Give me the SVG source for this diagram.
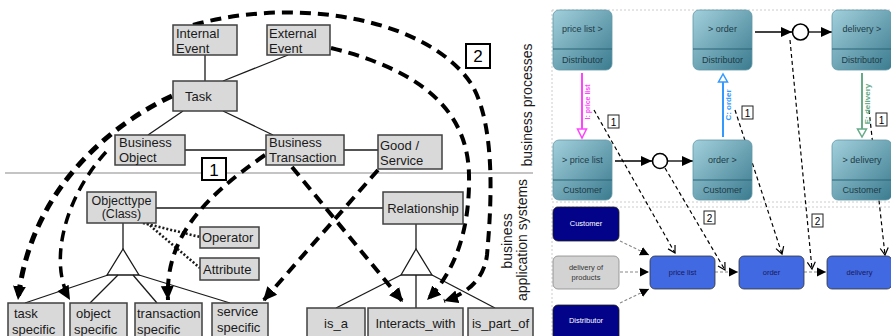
<svg xmlns="http://www.w3.org/2000/svg" width="891" height="336" viewBox="0 0 891 336">
<defs>
<style>
.bx{fill:#d9d9d9;stroke:#404040;stroke-width:1.5}
.t{font-family:"Liberation Sans",Arial,sans-serif;font-size:13px;fill:#1a1a1a}
.ln{stroke:#1a1a1a;stroke-width:1.3;fill:none}
.dot{stroke:#1a1a1a;stroke-width:2.6;stroke-dasharray:2 2;fill:none}
.thick{stroke:#000;stroke-width:4;stroke-dasharray:11 7;fill:none;marker-end:url(#big)}
.nb{fill:#fff;stroke:#000;stroke-width:2}
.nt{font-family:"Liberation Sans",Arial,sans-serif;font-size:17px;fill:#000;text-anchor:middle}
.vt{font-family:"Liberation Sans",Arial,sans-serif;font-size:14px;fill:#1a1a1a;text-anchor:middle}
.tb{fill:url(#teal);stroke:#5f98a8;stroke-width:0.8}
.tdiv{stroke:#2b6476;stroke-width:1.2}
.st{font-family:"Liberation Sans",Arial,sans-serif;font-size:9px;fill:#1c3b48;text-anchor:middle}
.lane{fill:none;stroke:#cccccc;stroke-width:1;stroke-dasharray:2 2}
.msg{stroke:#000;stroke-width:1.2;stroke-dasharray:4 3;fill:none;marker-end:url(#chev)}
.sb{fill:#fff;stroke:#222;stroke-width:1}
.sn{font-family:"Liberation Sans",Arial,sans-serif;font-size:10px;fill:#000;text-anchor:middle}
.navy{fill:#03038a;stroke:#222;stroke-width:0.8}
.rb{fill:#4169e1;stroke:#333;stroke-width:0.8}
.wt{font-family:"Liberation Sans",Arial,sans-serif;font-size:7.5px;fill:#fff;text-anchor:middle}
.dt{font-family:"Liberation Sans",Arial,sans-serif;font-size:7.5px;fill:#1a1a5a;text-anchor:middle}
.flow{stroke:#888;stroke-width:1.1;stroke-dasharray:3 2;fill:none;marker-end:url(#fill)}
.seq{stroke:#000;stroke-width:1.3;fill:none;marker-end:url(#seqa)}
</style>
<linearGradient id="teal" x1="0" y1="0" x2="1" y2="1">
<stop offset="0" stop-color="#a3d0dc"/>
<stop offset="1" stop-color="#3b7b8f"/>
</linearGradient>
<marker id="big" markerUnits="userSpaceOnUse" markerWidth="16" markerHeight="16" viewBox="0 0 16 16" refX="14" refY="8" orient="auto"><path d="M0,1.5 L14,8 L0,14.5 z" fill="#000"/></marker>
<marker id="chev" markerUnits="userSpaceOnUse" markerWidth="10" markerHeight="10" viewBox="0 0 10 10" refX="8" refY="5" orient="auto"><path d="M1,1 L8,5 L1,9" fill="none" stroke="#000" stroke-width="1.2"/></marker>
<marker id="fill" markerUnits="userSpaceOnUse" markerWidth="10" markerHeight="10" viewBox="0 0 10 10" refX="9" refY="5" orient="auto"><path d="M0,0.5 L9,5 L0,9.5 z" fill="#000"/></marker>
<marker id="seqa" markerUnits="userSpaceOnUse" markerWidth="12" markerHeight="12" viewBox="0 0 12 12" refX="11" refY="6" orient="auto"><path d="M0,1 L11,6 L0,11 z" fill="#000"/></marker>
</defs>
<rect width="891" height="336" fill="#fff"/>

<!-- ============ LEFT PANEL ============ -->
<line x1="5" y1="173" x2="533" y2="173" stroke="#b0b0b0" stroke-width="1.5"/>

<g id="plain-connectors">
<line class="ln" x1="205" y1="55" x2="205" y2="81"/>
<line class="ln" x1="288" y1="55" x2="223" y2="81"/>
<line class="ln" x1="183" y1="111" x2="148" y2="135"/>
<line class="ln" x1="223" y1="111" x2="273" y2="135"/>
<line class="ln" x1="185" y1="150" x2="266" y2="150"/>
<line class="ln" x1="344" y1="150" x2="378" y2="150"/>
<line class="ln" x1="156" y1="208" x2="383" y2="208"/>
<line class="ln" x1="123" y1="223" x2="123" y2="249"/>
<path class="ln" d="M123,249 L107,275 L139,275 Z"/>
<line class="ln" x1="108" y1="275" x2="25" y2="303"/>
<line class="ln" x1="118" y1="275" x2="90" y2="303"/>
<line class="ln" x1="133" y1="275" x2="157" y2="303"/>
<line class="ln" x1="139" y1="275" x2="230" y2="303"/>
<line class="dot" x1="143" y1="223" x2="200" y2="237"/>
<line class="dot" x1="147" y1="223" x2="200" y2="268"/>
<line class="ln" x1="416" y1="224" x2="416" y2="249"/>
<path class="ln" d="M416,249 L401,275 L432,275 Z"/>
<line class="ln" x1="401" y1="275" x2="336" y2="308"/>
<line class="ln" x1="416" y1="275" x2="416" y2="308"/>
<line class="ln" x1="432" y1="275" x2="495" y2="308"/>
</g>

<g id="dashed-connectors">
<path class="thick" style="stroke-width:5" d="M172,96 C110,125 30,190 18,300"/>
<path class="thick" style="stroke-width:3.5" d="M106,152 C65,197 48,262 70,300"/>
<path class="thick" d="M265,155 C200,200 165,240 168,300"/>
<path class="thick" d="M378,170 L263,301"/>
<path class="thick" d="M292,167 L403,302"/>
<path class="thick" d="M331,48 C420,70 468,110 469,175 C470,230 455,272 427,300"/>
<path class="thick" d="M193,25 C300,-5 430,20 472,85 C498,130 490,220 487,255 C484,280 466,294 444,301"/>
</g>

<g id="internal-event"><rect class="bx" x="173" y="25" width="64" height="30"/><text class="t" x="176" y="38">Internal</text><text class="t" x="176" y="53">Event</text></g>
<g id="external-event"><rect class="bx" x="267" y="25" width="63" height="30"/><text class="t" x="269" y="38">External</text><text class="t" x="269" y="53">Event</text></g>
<g id="task"><rect class="bx" x="173" y="81" width="64" height="30"/><text class="t" x="185" y="101">Task</text></g>
<g id="business-object"><rect class="bx" x="115" y="135" width="70" height="30"/><text class="t" x="119" y="147">Business</text><text class="t" x="119" y="162">Object</text></g>
<g id="business-transaction"><rect class="bx" x="266" y="135" width="78" height="30"/><text class="t" x="269" y="147">Business</text><text class="t" x="269" y="162">Transaction</text></g>
<g id="good-service"><rect class="bx" x="378" y="135" width="64" height="34"/><text class="t" x="380" y="150">Good /</text><text class="t" x="380" y="165">Service</text></g>
<g id="objecttype"><rect class="bx" x="87" y="192" width="69" height="31"/><text class="t" x="121.5" y="205" text-anchor="middle" style="font-size:12.5px">Objecttype</text><text class="t" x="121.5" y="218" text-anchor="middle" style="font-size:12.5px">(Class)</text></g>
<g id="operator"><rect class="bx" x="200" y="227" width="59" height="21"/><text class="t" x="202" y="242">Operator</text></g>
<g id="attribute"><rect class="bx" x="200" y="258" width="59" height="22"/><text class="t" x="203" y="274">Attribute</text></g>
<g id="relationship"><rect class="bx" x="383" y="192" width="80" height="32"/><text class="t" x="423" y="213" text-anchor="middle">Relationship</text></g>
<g id="task-specific"><rect class="bx" x="8" y="303" width="56" height="40"/><text class="t" x="14" y="318">task</text><text class="t" x="12" y="334">specific</text></g>
<g id="object-specific"><rect class="bx" x="70" y="303" width="57" height="40"/><text class="t" x="76" y="318">object</text><text class="t" x="74" y="334">specific</text></g>
<g id="transaction-specific"><rect class="bx" x="135" y="303" width="67" height="40"/><text class="t" x="137" y="318">transaction</text><text class="t" x="137" y="334">specific</text></g>
<g id="service-specific"><rect class="bx" x="212" y="303" width="56" height="40"/><text class="t" x="217" y="316">service</text><text class="t" x="217" y="332">specific</text></g>
<g id="is-a"><rect class="bx" x="307" y="308" width="58" height="35"/><text class="t" x="336" y="328" text-anchor="middle">is_a</text></g>
<g id="interacts-with"><rect class="bx" x="368" y="308" width="95" height="35"/><text class="t" x="415.5" y="328" text-anchor="middle">Interacts_with</text></g>
<g id="is-part-of"><rect class="bx" x="468" y="308" width="65" height="35"/><text class="t" x="500.5" y="328" text-anchor="middle">is_part_of</text></g>

<g id="label-1"><rect class="nb" x="202" y="158" width="24" height="22"/><text class="nt" x="214" y="176">1</text></g>
<g id="label-2"><rect class="nb" x="466" y="44" width="24" height="24"/><text class="nt" x="478" y="62">2</text></g>

<text class="vt" transform="translate(532,105) rotate(-90)">business  processes</text>
<text class="vt" transform="translate(512,241) rotate(-90)">business</text>
<text class="vt" transform="translate(527,240) rotate(-90)">application systems</text>

<!-- ============ RIGHT PANEL ============ -->
<rect class="lane" x="552" y="10" width="345" height="192"/>
<rect class="lane" x="552" y="207" width="345" height="135"/>

<g id="r-connectors">
<line class="seq" x1="755" y1="32" x2="792" y2="32"/>
<line class="seq" x1="809" y1="32" x2="832" y2="32"/>
<line class="seq" x1="615" y1="161" x2="652" y2="161"/>
<line class="seq" x1="668" y1="161" x2="693" y2="161"/>
<line x1="582" y1="73" x2="582" y2="129" stroke="#ff44ff" stroke-width="2"/>
<path d="M577.5,129 L586.5,129 L582,138 Z" fill="#fff" stroke="#ff44ff" stroke-width="1.5"/>
<line x1="723" y1="137" x2="723" y2="82" stroke="#3399ff" stroke-width="2"/>
<path d="M718.5,82 L727.5,82 L723,74 Z" fill="#fff" stroke="#3399ff" stroke-width="1.5"/>
<line x1="862" y1="73" x2="862" y2="129" stroke="#66aa88" stroke-width="2"/>
<path d="M857.5,129 L866.5,129 L862,137 Z" fill="#fff" stroke="#66aa88" stroke-width="1.5"/>
<path class="msg" d="M594,110 L675,253"/>
<path class="msg" d="M735,110 L782,254"/>
<path class="msg" d="M869,110 L885,255"/>
<path class="msg" d="M665,168 L725,270"/>
<path class="msg" d="M790,40 L812,269"/>
<path class="flow" d="M620,241 L649,255"/>
<path class="flow" d="M620,272 L649,272"/>
<path class="flow" d="M620,303 L649,289"/>
<path class="flow" d="M715,272 L738,272"/>
<path class="flow" d="M804,272 L826,272"/>
</g>
<circle cx="800.5" cy="32" r="8" fill="#fff" stroke="#000" stroke-width="1.6"/>
<circle cx="660" cy="161" r="7.5" fill="#fff" stroke="#000" stroke-width="1.6"/>

<text transform="translate(590,102) rotate(-90)" font-family="'Liberation Sans',Arial,sans-serif" font-size="7" font-weight="bold" fill="#ff44ff" text-anchor="middle">I: price list</text>
<text transform="translate(731,105) rotate(-90)" font-family="'Liberation Sans',Arial,sans-serif" font-size="8" font-weight="bold" fill="#3399ff" text-anchor="middle">C: order</text>
<text transform="translate(870,104) rotate(-90)" font-family="'Liberation Sans',Arial,sans-serif" font-size="8" font-weight="bold" fill="#66aa88" text-anchor="middle">E: delivery</text>

<g id="price-list-dist"><rect class="tb" x="553" y="10" width="59" height="60" rx="6"/><line class="tdiv" x1="553" y1="49" x2="612" y2="49"/><text class="st" x="582.5" y="32">price list &gt;</text><text class="st" x="582.5" y="63">Distributor</text></g>
<g id="order-dist"><rect class="tb" x="693" y="10" width="59" height="60" rx="6"/><line class="tdiv" x1="693" y1="49" x2="752" y2="49"/><text class="st" x="722.5" y="32">&gt; order</text><text class="st" x="722.5" y="63">Distributor</text></g>
<g id="delivery-dist"><rect class="tb" x="832" y="10" width="60" height="60" rx="6"/><line class="tdiv" x1="832" y1="49" x2="892" y2="49"/><text class="st" x="862" y="32">delivery &gt;</text><text class="st" x="862" y="63">Distributor</text></g>
<g id="price-list-cust"><rect class="tb" x="553" y="140" width="59" height="60" rx="6"/><line class="tdiv" x1="553" y1="180" x2="612" y2="180"/><text class="st" x="582.5" y="163">&gt; price list</text><text class="st" x="582.5" y="193">Customer</text></g>
<g id="order-cust"><rect class="tb" x="693" y="140" width="59" height="60" rx="6"/><line class="tdiv" x1="693" y1="180" x2="752" y2="180"/><text class="st" x="722.5" y="163">order &gt;</text><text class="st" x="722.5" y="193">Customer</text></g>
<g id="delivery-cust"><rect class="tb" x="832" y="140" width="60" height="60" rx="6"/><line class="tdiv" x1="832" y1="180" x2="892" y2="180"/><text class="st" x="862" y="163">&gt; delivery</text><text class="st" x="862" y="193">Customer</text></g>

<g id="r1a"><rect class="sb" x="608" y="115" width="11" height="13"/><text class="sn" x="613.5" y="125.5">1</text></g>
<g id="r1b"><rect class="sb" x="742" y="106" width="11" height="13"/><text class="sn" x="747.5" y="116.5">1</text></g>
<g id="r1c"><rect class="sb" x="876" y="113" width="11" height="13"/><text class="sn" x="881.5" y="123.5">1</text></g>
<g id="r2a"><rect class="sb" x="704" y="211" width="11" height="13"/><text class="sn" x="709.5" y="221.5">2</text></g>
<g id="r2b"><rect class="sb" x="812" y="214" width="11" height="13"/><text class="sn" x="817.5" y="224.5">2</text></g>

<g id="customer"><rect class="navy" x="553" y="207" width="66" height="34" rx="5"/><text class="wt" x="586" y="226">Customer</text></g>
<g id="delivery-of-products"><rect x="553" y="256" width="66" height="33" rx="5" fill="#d3d3d3" stroke="#888" stroke-width="0.8"/><text class="dt" x="586" y="270" style="fill:#333">delivery of</text><text class="dt" x="586" y="280" style="fill:#333">products</text></g>
<g id="distributor"><rect class="navy" x="553" y="305" width="66" height="40" rx="5"/><text class="wt" x="586" y="323">Distributor</text></g>
<g id="price-list"><rect class="rb" x="650" y="256" width="65" height="33" rx="5"/><text class="dt" x="682.5" y="275">price list</text></g>
<g id="order"><rect class="rb" x="739" y="256" width="65" height="33" rx="5"/><text class="dt" x="771.5" y="275">order</text></g>
<g id="delivery"><rect class="rb" x="827" y="256" width="65" height="33" rx="5"/><text class="dt" x="859.5" y="275">delivery</text></g>
</svg>
